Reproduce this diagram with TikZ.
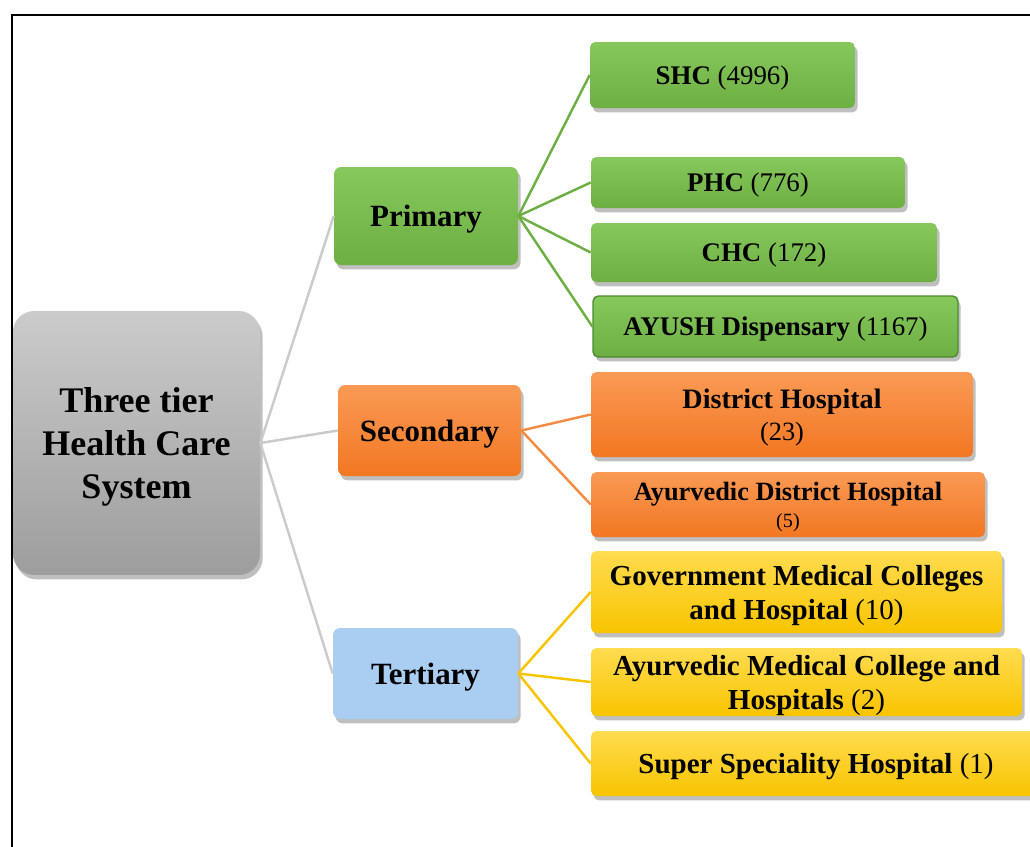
\documentclass[tikz,border=0pt]{standalone}
\usepackage{fontspec}
\setmainfont{Liberation Serif}
\usetikzlibrary{shadows}
\definecolor{grnl}{HTML}{86C85C}
\definecolor{grnd}{HTML}{6DAF42}
\definecolor{grnb}{HTML}{4E8A2C}
\definecolor{orgl}{HTML}{FA9A55}
\definecolor{orgd}{HTML}{F27722}
\definecolor{yell}{HTML}{FFDC50}
\definecolor{yeld}{HTML}{F8C400}
\definecolor{blu}{HTML}{A9CEF1}
\definecolor{gryl}{HTML}{CBCBCB}
\definecolor{gryd}{HTML}{9D9D9D}
\tikzset{
  box/.style={rounded corners=3pt,align=center,inner sep=2pt,text depth=0pt,
    drop shadow={shadow xshift=1.5pt,shadow yshift=-2.5pt,opacity=.25,fill=black}},
  rootbox/.style={box,rounded corners=12pt,top color=gryl,bottom color=gryd,
    font=\fontsize{20.5}{24.5}\selectfont\bfseries},
  tier/.style={box,rounded corners=4pt,font=\fontsize{17.6}{21}\selectfont\bfseries},
  gleaf/.style={box,top color=grnl,bottom color=grnd,font=\fontsize{15.3}{18}\selectfont},
  oleaf/.style={box,top color=orgl,bottom color=orgd,font=\fontsize{16}{18.2}\selectfont},
  yleaf/.style={box,top color=yell,bottom color=yeld,font=\fontsize{16.5}{19.4}\selectfont},
  ln/.style={line width=1.4pt},
}

\begin{document}
\begin{tikzpicture}[x=0.02cm,y=-0.02cm]
  \useasboundingbox (0,0) rectangle (1030,846);
  \clip (0,0) rectangle (1030,846);
  \draw[line width=1.7pt] (12,15) rectangle (1100,900);

  % root and the three tiers
  \node[rootbox,minimum width=4.94cm,minimum height=5.28cm] (root) at (136.5,443)
    {Three tier\\Health Care\\System};
  \node[tier,top color=grnl,bottom color=grnd,minimum width=3.68cm,minimum height=1.96cm]
    (pri) at (426,216) {Primary};
  \node[tier,top color=orgl,bottom color=orgd,minimum width=3.66cm,minimum height=1.82cm]
    (sec) at (429.5,430.5) {Secondary};
  \node[tier,fill=blu,minimum width=3.7cm,minimum height=1.82cm]
    (ter) at (425.5,673.5) {Tertiary};

  % primary level
  \node[gleaf,minimum width=5.3cm,minimum height=1.32cm] (shc) at (722.5,75)
    {\textbf{SHC} (4996)};
  \node[gleaf,minimum width=6.28cm,minimum height=1.02cm] (phc) at (748,182.5)
    {\textbf{PHC} (776)};
  \node[gleaf,minimum width=6.92cm,minimum height=1.18cm] (chc) at (764,252.5)
    {\textbf{CHC} (172)};
  \node[gleaf,draw=grnb,thick,minimum width=7.3cm,minimum height=1.22cm] (ayu) at (775.5,326.5)
    {\textbf{AYUSH Dispensary} (1167)};

  % secondary level
  \node[oleaf,minimum width=7.64cm,minimum height=1.7cm] (dh) at (782,414.5)
    {\textbf{District Hospital}\\{\fontsize{15}{15}\selectfont(23)}};
  \node[oleaf,font=\fontsize{15}{15.5}\selectfont,minimum width=7.88cm,minimum height=1.3cm]
    (adh) at (788,504.5)
    {\textbf{Ayurvedic District Hospital}\\{\fontsize{11.5}{11.5}\selectfont(5)}};

  % tertiary level
  \node[yleaf,minimum width=8.22cm,minimum height=1.64cm] (gmc) at (796.5,592)
    {\textbf{Government Medical Colleges}\\\textbf{and Hospital} (10)};
  \node[yleaf,minimum width=8.62cm,minimum height=1.36cm] (amc) at (806.5,682)
    {\textbf{Ayurvedic Medical College and}\\\textbf{Hospitals} (2)};
  \node[yleaf,minimum width=9cm,minimum height=1.3cm] (ssh) at (816,763.5)
    {\textbf{Super Speciality Hospital} (1)};

  % links
  \foreach \t in {pri,sec,ter}
    \draw[ln,draw=gryl] (root.east) -- (\t.west);
  \foreach \l in {shc,phc,chc,ayu}
    \draw[ln,draw=grnd] (pri.east) -- (\l.west);
  \foreach \l in {dh,adh}
    \draw[ln,draw=orgd!85] (sec.east) -- (\l.west);
  \foreach \l in {gmc,amc,ssh}
    \draw[ln,draw=yeld] (ter.east) -- (\l.west);
\end{tikzpicture}
\end{document}
